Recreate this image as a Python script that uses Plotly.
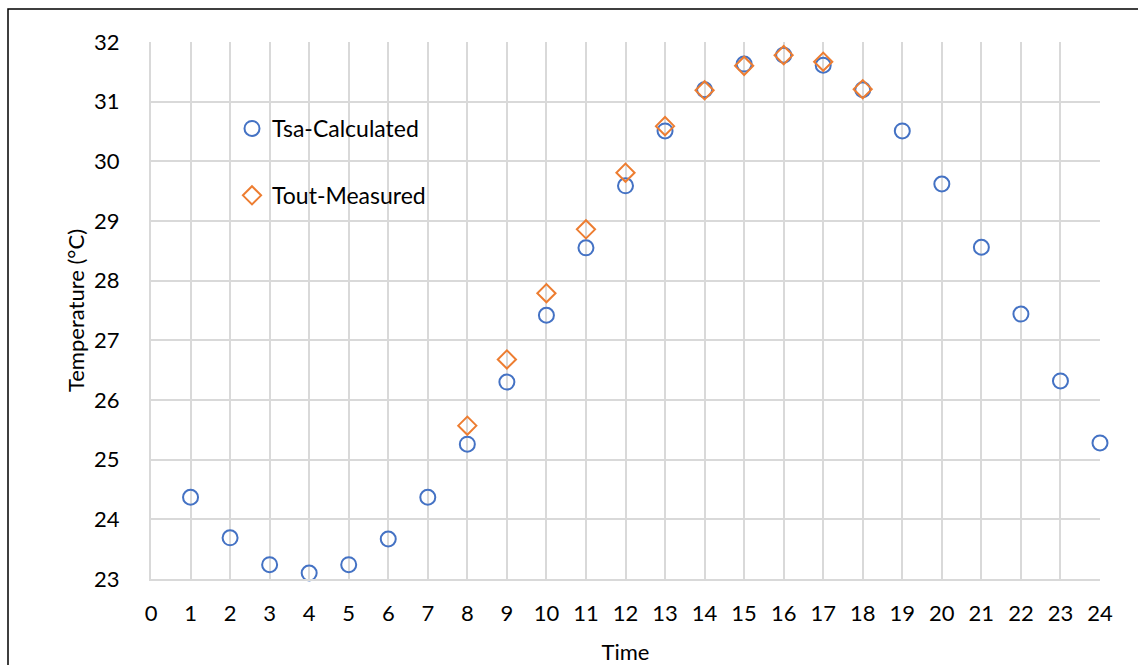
import plotly.graph_objects as go

time = list(range(1, 25))
tsa_calculated = [24.37, 23.69, 23.24, 23.10, 23.24, 23.67, 24.37, 25.26, 26.30, 27.42,
                  28.55, 29.59, 30.51, 31.20, 31.63, 31.78, 31.61, 31.20, 30.51, 29.62,
                  28.56, 27.44, 26.32, 25.28]
time_measured = list(range(8, 19))
tout_measured = [25.57, 26.68, 27.79, 28.86, 29.81, 30.59, 31.19, 31.60, 31.78, 31.67, 31.21]

FONT = "Lato"
FS = 22
W, H = 1138, 665
L, T, R, B = 151, 42, 38, 86
pw, ph = W - L - R, H - T - B

fig = go.Figure()
fig.add_trace(go.Scatter(
    x=time, y=tsa_calculated, mode="markers", name="Tsa-Calculated",
    legendgroup="a", cliponaxis=False,
    marker=dict(symbol="circle-open", size=15, color="#4472C4", line=dict(width=2, color="#4472C4")),
))
fig.add_trace(go.Scatter(
    x=time_measured, y=tout_measured, mode="markers", name="Tout-Measured",
    legendgroup="b", cliponaxis=False,
    marker=dict(symbol="diamond-open", size=14, color="#ED7D31", line=dict(width=2, color="#ED7D31")),
))

fig.update_layout(
    width=W, height=H,
    margin=dict(l=L, r=R, t=T, b=B, autoexpand=False),
    paper_bgcolor="white", plot_bgcolor="white",
    font=dict(family=FONT, size=FS, color="black"),
    showlegend=True,
    legend=dict(
        x=(232 - L) / pw, y=1 - (107 - T) / ph, xanchor="left", yanchor="top",
        bgcolor="rgba(0,0,0,0)", borderwidth=0, tracegroupgap=34,
        font=dict(family=FONT, size=23, color="black"), itemwidth=30,
    ),
    xaxis=dict(
        range=[0, 24], dtick=1, tick0=0, showgrid=True, gridcolor="#D9D9D9", gridwidth=1.5,
        showline=True, linecolor="#D9D9D9", linewidth=2, zeroline=False,
        ticks="", ticklabelstandoff=14, automargin=False,
        title=dict(text="Time", font=dict(family=FONT, size=FS), standoff=22),
    ),
    yaxis=dict(
        range=[23, 32], dtick=1, showgrid=True, gridcolor="#D9D9D9", gridwidth=1.5,
        showline=True, linecolor="#D9D9D9", linewidth=2, zeroline=False,
        ticks="", ticklabelstandoff=25, automargin=False,
        title=dict(text="Temperature (°C)", font=dict(family=FONT, size=FS), standoff=3),
    ),
    shapes=[dict(
        type="rect", xref="paper", yref="paper",
        x0=(8 - L) / pw, x1=1 + (R + 10) / pw,
        y0=-(B + 10) / ph, y1=1 + (T - 9) / ph,
        line=dict(color="black", width=1.5), fillcolor="rgba(0,0,0,0)", layer="below",
    )],
)

fig.write_html("out.html", config={"displayModeBar": False},
               post_script="document.body.style.margin='0';")
